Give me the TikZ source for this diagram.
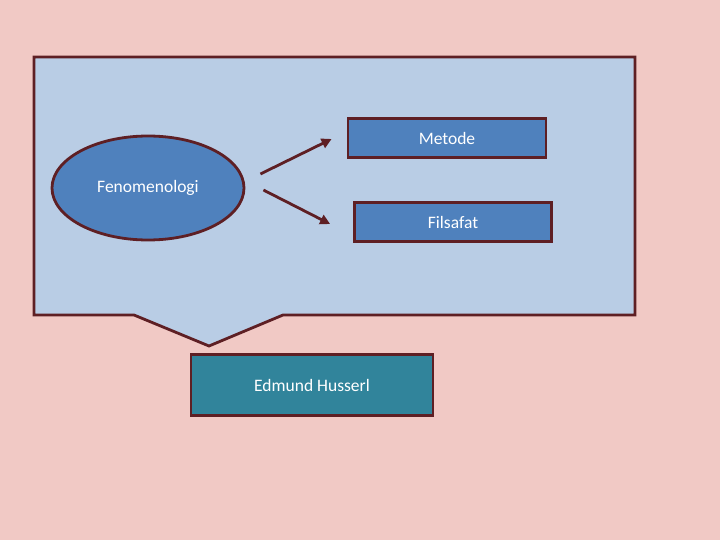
\documentclass[tikz,border=0pt]{standalone}
\usepackage{fontspec}
\setmainfont{Carlito}
\usepackage{xcolor}
\usepackage{tikz}
\usetikzlibrary{calc,shapes.geometric,arrows.meta}
\definecolor{paper}{HTML}{F1C9C5}
\definecolor{panel}{HTML}{B9CDE5}
\definecolor{edge}{HTML}{5E1F24}
\definecolor{blue}{HTML}{4F81BD}
\definecolor{teal}{HTML}{31849B}
\tikzset{
  lab/.style={text=white, font=\fontsize{17.5}{21}\selectfont},
  boxA/.style={draw=edge, line width=2.8pt, fill=blue, rectangle, inner sep=0pt, lab},
  bubble/.style={draw=edge, line width=2.8pt, fill=blue, ellipse, inner sep=0pt, lab},
  arr/.style={draw=edge, line width=2.8pt, -{Triangle[length=10pt,width=10pt]}}
}
\begin{document}
\begin{tikzpicture}[x=1pt,y=-1pt]
\fill[paper] (0,0) rectangle (720,540);
\useasboundingbox (0,0) rectangle (720,540);
% callout panel
\draw[edge, fill=panel, line width=2.8pt, line join=miter]
  (34,57) -- (635,57) -- (635,315) -- (283,315) -- (209,346) -- (134,315) -- (34,315) -- cycle;

\node[bubble, minimum width=192pt, minimum height=104pt] (fen) at (148,188) {Fenomenologi};
\node[boxA, minimum width=198pt, minimum height=39pt] (met) at (447,138) {Metode};
\node[boxA, minimum width=197pt, minimum height=39pt] (fil) at (453,222) {Filsafat};
\draw[arr] ($(fen.east)+(15,-14)$) -- ($(met.west)+(-15,1)$);
\draw[arr] ($(fen.east)+(18,2)$) -- ($(fil.west)+(-23,2)$);

\node[boxA, fill=teal, minimum width=242pt, minimum height=61pt] (hus) at (312,385) {Edmund Husserl};
\end{tikzpicture}
\end{document}
